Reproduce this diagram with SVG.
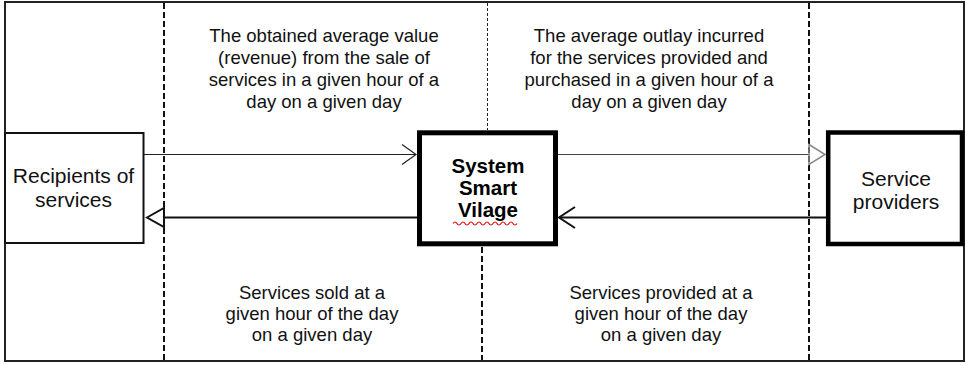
<svg xmlns="http://www.w3.org/2000/svg" width="966" height="366" viewBox="0 0 966 366">
<style>
.t{font-family:"Liberation Sans",Arial,sans-serif;font-size:18.5px;fill:#111;text-anchor:middle}
.n{font-family:"Liberation Sans",Arial,sans-serif;font-size:21px;fill:#111;text-anchor:middle}
.b{font-family:"Liberation Sans",Arial,sans-serif;font-size:20.5px;font-weight:bold;fill:#000;text-anchor:middle}
.dash{stroke:#111;stroke-width:2;stroke-dasharray:6 3;fill:none}
</style>
<rect width="966" height="366" fill="#fff"/>
<rect x="5" y="2" width="959" height="359" fill="none" stroke="#222" stroke-width="2"/>
<g id="dividers">
<line class="dash" x1="164" y1="3" x2="164" y2="360"/>
<line class="dash" x1="809" y1="3" x2="809" y2="360"/>
<line x1="487.5" y1="3" x2="487.5" y2="130" stroke="#222" stroke-width="1" stroke-dasharray="3 2"/>
<line class="dash" x1="482" y1="247" x2="482" y2="360"/>
</g>
<g id="labels">
<text class="t" x="324" y="42">The obtained average value</text>
<text class="t" x="324" y="64">(revenue) from the sale of</text>
<text class="t" x="324" y="86">services in a given hour of a</text>
<text class="t" x="324" y="108">day on a given day</text>
<text class="t" x="649" y="42">The average outlay incurred</text>
<text class="t" x="649" y="64">for the services provided and</text>
<text class="t" x="649" y="86">purchased in a given hour of a</text>
<text class="t" x="649" y="108">day on a given day</text>
<text class="t" x="312" y="299">Services sold at a</text>
<text class="t" x="312" y="320">given hour of the day</text>
<text class="t" x="312" y="341">on a given day</text>
<text class="t" x="661" y="299">Services provided at a</text>
<text class="t" x="661" y="320">given hour of the day</text>
<text class="t" x="661" y="341">on a given day</text>
</g>
<g id="connectors" fill="none">
<line x1="144" y1="154.5" x2="416" y2="154.5" stroke="#222" stroke-width="1"/>
<polyline points="402,144.5 416,154.5 402,164.5" stroke="#222" stroke-width="1.2"/>
<line x1="558" y1="154.5" x2="810" y2="154.5" stroke="#444" stroke-width="1"/>
<polygon points="809,144.5 825,154.5 809,164.5" stroke="#888" stroke-width="1.5"/>
<line x1="164" y1="217.5" x2="417" y2="217.5" stroke="#111" stroke-width="2"/>
<polygon points="147,217.5 164,208 164,227" stroke="#111" stroke-width="2" fill="#fff"/>
<line x1="560" y1="217.5" x2="826" y2="217.5" stroke="#111" stroke-width="2"/>
<polyline points="575,207 559,217.5 575,228" stroke="#111" stroke-width="2"/>
</g>
<g id="recipients">
<rect x="5" y="133" width="138.5" height="110" fill="#fff" stroke="#111" stroke-width="2"/>
<text class="n" x="73.5" y="183">Recipients of</text>
<text class="n" x="73.5" y="207">services</text>
</g>
<g id="system">
<rect x="419.5" y="132.8" width="136" height="111" fill="#fff" stroke="#000" stroke-width="5"/>
<text class="b" x="488" y="173">System</text>
<text class="b" x="488" y="195">Smart</text>
<text class="b" x="488" y="217">Vilage</text>
<path d="M453,223.5 q2,-3 4,0 t4,0 t4,0 t4,0 t4,0 t4,0 t4,0 t4,0 t4,0 t4,0 t4,0 t4,0 t4,0 t4,0 t4,0 t4,0" fill="none" stroke="#e00" stroke-width="1.2"/>
</g>
<g id="providers">
<rect x="828.2" y="132.5" width="133.8" height="111.5" fill="#fff" stroke="#000" stroke-width="4.5"/>
<text class="n" x="896" y="186">Service</text>
<text class="n" x="896" y="209">providers</text>
</g>
</svg>
